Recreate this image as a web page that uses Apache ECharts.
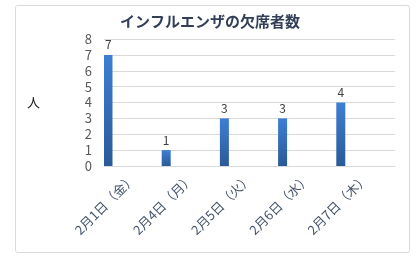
<!DOCTYPE html>
<html>
<head>
<meta charset="utf-8">
<script src="https://cdn.jsdelivr.net/npm/echarts@6/dist/echarts.min.js"></script>
<style>html,body{margin:0;padding:0;background:#fff;}#c{width:420px;height:256px;}</style>
</head>
<body>
<div id="c"></div>
<script>
const categories = ['2月1日（金）', '2月4日（月）', '2月5日（火）', '2月6日（水）', '2月7日（木）'];
const absences = [7, 1, 3, 3, 4];
const yTicks = [0, 1, 2, 3, 4, 5, 6, 7, 8];
const titleText = 'インフルエンザの欠席者数';
const yName = '人';

const FONT = '"Noto Sans CJK JP", "Noto Sans", sans-serif';
const chart = echarts.init(document.getElementById('c'), null, {renderer: 'canvas'});
chart.setOption({
  animation: false,
  backgroundColor: '#fff',
  title: {
    text: titleText, left: 'center', top: 9,
    textStyle: {fontFamily: FONT, fontSize: 15, fontWeight: 'bold', color: '#34405a'}
  },
  graphic: [{
    type: 'rect', left: 13, top: 3, silent: true,
    shape: {width: 394, height: 247, r: 2},
    style: {fill: 'none', stroke: '#d9d9d9', lineWidth: 1}
  }],
  grid: {left: 104, right: 25, top: 39, bottom: 90, containLabel: false},
  xAxis: {
    type: 'category', data: categories,
    axisLine: {lineStyle: {color: '#d9d9d9'}},
    axisTick: {show: false},
    axisLabel: {
      rotate: 45, interval: 0, margin: 10,
      fontFamily: FONT, fontSize: 13, color: '#44546a'
    }
  },
  yAxis: {
    type: 'value', min: yTicks[0], max: yTicks[yTicks.length - 1], interval: 1,
    name: yName, nameLocation: 'middle', nameRotate: 0, nameGap: 64,
    nameTextStyle: {fontFamily: FONT, fontSize: 13, color: '#222'},
    axisLine: {show: false}, axisTick: {show: false},
    axisLabel: {margin: 12, fontFamily: FONT, fontSize: 13, color: '#595959'},
    splitLine: {lineStyle: {color: '#d9d9d9'}}
  },
  series: [{
    type: 'bar', data: absences, barWidth: 9, barGap: '458%',
    itemStyle: {
      color: new echarts.graphic.LinearGradient(0, 0, 0, 1, [
        {offset: 0, color: '#3d7fd3'}, {offset: 1, color: '#2a5a98'}
      ])
    },
    label: {show: true, position: 'top', distance: 4, fontFamily: FONT, fontSize: 12, color: '#404040'}
  }, {
    type: 'bar', data: absences.map(() => null), barWidth: 9, silent: true
  }]
});
</script>
</body>
</html>
